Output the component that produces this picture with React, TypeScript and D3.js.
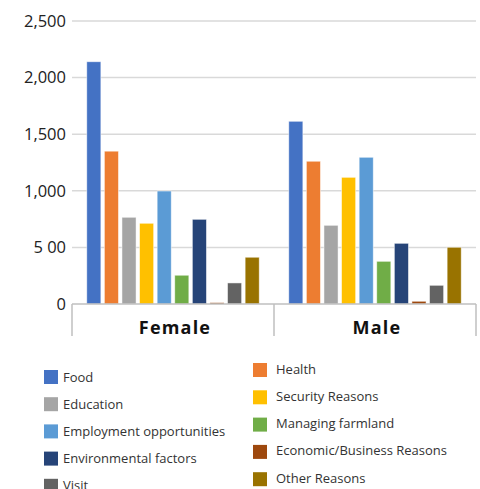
import React from "react";
import * as d3 from "d3";

const categories = ["Female", "Male"];
const series = [
  "Food",
  "Health",
  "Education",
  "Security Reasons",
  "Employment opportunities",
  "Managing farmland",
  "Environmental factors",
  "Economic/Business Reasons",
  "Visit",
  "Other Reasons",
];
const femaleValues = [2140, 1350, 766, 713, 998, 254, 748, 12, 186, 413];
const maleValues = [1614, 1261, 695, 1119, 1296, 377, 536, 24, 165, 501];
const colors = [
  "#4472C4",
  "#ED7D31",
  "#A5A5A5",
  "#FFC000",
  "#5B9BD5",
  "#70AD47",
  "#264478",
  "#9E480E",
  "#636363",
  "#997300",
];
const yTicks = [0, 500, 1000, 1500, 2000, 2500];
const yTickLabels = ["0", "5 00", "1,000", "1,500", "2,000", "2,500"];

const W = 480;
const H = 489;
const left = 72;
const right = 476;
const top = 21;
const bottom = 304;
const font = "'Open Sans', sans-serif";

export default function App() {
  const x0 = d3.scaleBand<string>().domain(categories).range([left, right]).padding(0);
  const x1 = d3
    .scaleBand<string>()
    .domain(series)
    .range([0, x0.bandwidth()])
    .paddingInner(0.2)
    .paddingOuter(0.84);
  const y = d3.scaleLinear().domain([0, 2500]).range([bottom, top]);
  const data = [femaleValues, maleValues];

  const leftCol = [0, 2, 4, 6, 8];
  const rightCol = [1, 3, 5, 7, 9];

  return (
    <svg
      width={W}
      height={H}
      style={{ position: "absolute", left: 0, top: 0, background: "#fff" }}
    >
      {yTicks.map((t, i) => (
        <g key={t}>
          {t > 0 && (
            <line x1={left} x2={right} y1={y(t)} y2={y(t)} stroke="#d9d9d9" strokeWidth={1.5} />
          )}
          <text
            x={66}
            y={y(t)}
            dy="0.35em"
            textAnchor="end"
            fontFamily={font}
            fontSize={16.5}
            fill="#222"
          >
            {yTickLabels[i]}
          </text>
        </g>
      ))}
      {categories.map((c, ci) => (
        <g key={c}>
          {series.map((s, si) => {
            const v = data[ci][si];
            const x = (x0(c) as number) + (x1(s) as number);
            return (
              <rect
                key={s}
                x={x}
                y={y(v)}
                width={x1.bandwidth()}
                height={bottom - y(v)}
                fill={colors[si]}
                stroke="#fff"
                strokeOpacity={0.6}
                strokeWidth={0.8}
              />
            );
          })}
          <text
            x={(x0(c) as number) + x0.bandwidth() / 2 + 2}
            y={334}
            textAnchor="middle"
            fontFamily={font}
            fontWeight="bold"
            fontSize={18}
            fill="#111"
            letterSpacing={1.2}
          >
            {c}
          </text>
        </g>
      ))}
      <line x1={left} x2={right} y1={bottom} y2={bottom} stroke="#bfbfbf" strokeWidth={1.5} />
      {[left, x0("Male") as number, right].map((xx, i) => (
        <line key={i} x1={xx} x2={xx} y1={bottom} y2={336} stroke="#bfbfbf" strokeWidth={1.5} />
      ))}
      {leftCol.map((si, r) => (
        <g key={series[si]} transform={`translate(44, ${370 + r * 27.2})`}>
          <rect width={14} height={14} fill={colors[si]} />
          <text x={19} y={7} dy="0.35em" fontFamily={font} fontSize={13} fill="#333">
            {series[si]}
          </text>
        </g>
      ))}
      {rightCol.map((si, r) => (
        <g key={series[si]} transform={`translate(253, ${363 + r * 27.3})`}>
          <rect width={14} height={14} fill={colors[si]} />
          <text x={23} y={6} dy="0.35em" fontFamily={font} fontSize={13} fill="#333">
            {series[si]}
          </text>
        </g>
      ))}
    </svg>
  );
}
